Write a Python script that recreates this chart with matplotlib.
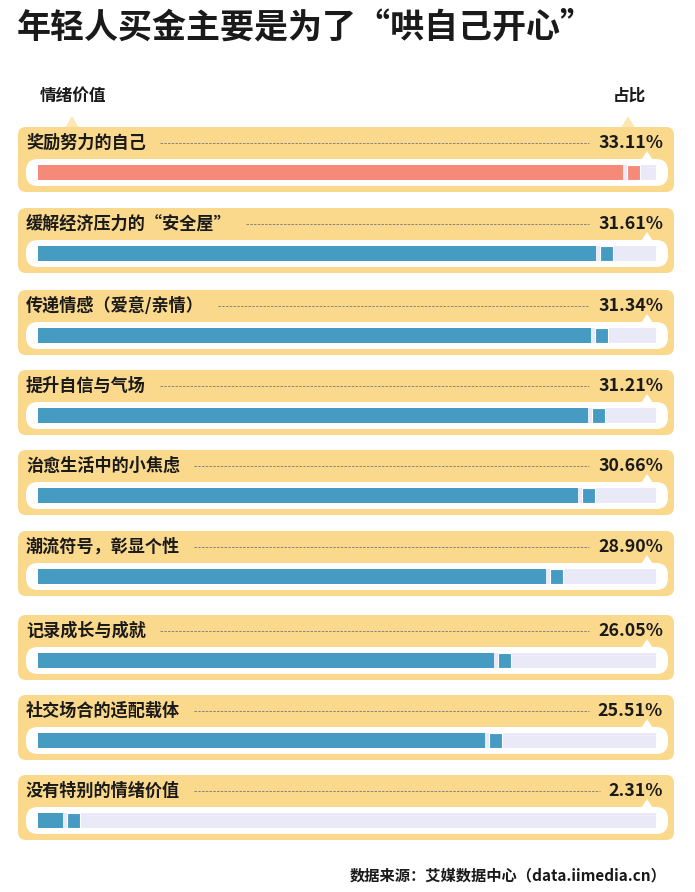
"""年轻人买金主要是为了“哄自己开心” -- rounded-panel progress bar chart."""

import matplotlib.pyplot as plt
from matplotlib.patches import FancyBboxPatch, Polygon
import numpy as np

plt.rcParams["font.family"] = ["Noto Sans CJK SC", "DejaVu Sans"]

# --- data ----------------------------------------------------------------------
LABELS = [
    "奖励努力的自己",
    "缓解经济压力的“安全屋”",
    "传递情感（爱意/亲情）",
    "提升自信与气场",
    "治愈生活中的小焦虑",
    "潮流符号，彰显个性",
    "记录成长与成就",
    "社交场合的适配载体",
    "没有特别的情绪价值",
]
VALUES = np.array([33.11, 31.61, 31.34, 31.21, 30.66, 28.90, 26.05, 25.51, 2.31])

TITLE = "年轻人买金主要是为了“哄自己开心”"
SOURCE = "数据来源：艾媒数据中心（data.iimedia.cn）"

# --- layout (pixels, figure is 695 x 892) ----------------------------------------
W, H = 695, 892
ROW_TOP = [127, 208, 290, 370, 450, 531, 615, 695, 775]
PANEL_X0, PANEL_X1, PANEL_H = 18, 674, 65
TRACK_X0, TRACK_X1 = 38, 656
X_MAX = 34.0                       # percent shown across the full track

PANEL = "#FAD88C"
PANEL_TIP = "#FCE6B2"
TRACK = "#E9E9F7"
BLUE = "#469BC2"
SALMON = "#F58A78"
INK = "#1a1a1a"

fig = plt.figure(figsize=(W / 100, H / 100), dpi=100)
ax = fig.add_axes([0, 0, 1, 1])
ax.set_xlim(0, W)
ax.set_ylim(H, 0)
ax.axis("off")

# bar axes: x in percent, y in pixel rows so it lines up with the panels
bx = fig.add_axes([TRACK_X0 / W, 0, (TRACK_X1 - TRACK_X0) / W, 1])
bx.set_xlim(0, X_MAX)
bx.set_ylim(H, 0)
bx.axis("off")
bx.patch.set_alpha(0)
px = X_MAX / (TRACK_X1 - TRACK_X0)   # percent per pixel

ax.text(17, 27, TITLE, fontsize=24.5, fontweight="heavy", color=INK,
        ha="left", va="center")
ax.text(40, 96, "情绪价值", fontsize=12, fontweight="bold", color=INK, va="center")
ax.text(646, 96, "占比", fontsize=12, fontweight="bold", color=INK, va="center", ha="right")
for x in (72, 628):
    ax.add_patch(Polygon([(x - 7, 128), (x + 7, 128), (x, 116)], closed=True,
                         fc=PANEL_TIP, ec="none"))

fig.canvas.draw()
renderer = fig.canvas.get_renderer()
inv = ax.transData.inverted()

bar_y = np.array(ROW_TOP) + 45.5
for i, (top, lab, v) in enumerate(zip(ROW_TOP, LABELS, VALUES)):
    ax.add_patch(FancyBboxPatch((PANEL_X0, top), PANEL_X1 - PANEL_X0, PANEL_H,
                                boxstyle="round,pad=0,rounding_size=8",
                                fc=PANEL, ec="none", zorder=1))
    ax.add_patch(FancyBboxPatch((26, top + 32), 642, 27,
                                boxstyle="round,pad=0,rounding_size=12",
                                fc="white", ec="none", zorder=2))
    ax.add_patch(Polygon([(641, top + 33), (653, top + 33), (647, top + 24)],
                         closed=True, fc="white", ec="none", zorder=2))
    t1 = ax.text(26, top + 16, lab, fontsize=12.3, fontweight="bold", color=INK,
                 va="center", ha="left", zorder=3)
    t2 = ax.text(663, top + 16, f"{v:.2f}%", fontsize=12.8, fontweight="bold",
                 color=INK, va="center", ha="right", zorder=3)
    x_a = inv.transform(t1.get_window_extent(renderer))[1][0] + 14
    x_b = inv.transform(t2.get_window_extent(renderer))[0][0] - 9
    ax.plot([x_a, x_b], [top + 16, top + 16], color="#777777", lw=0.6,
            ls=(0, (3, 1.5)), zorder=3)

colors = [SALMON] + [BLUE] * (len(VALUES) - 1)
cap, gap = 13 * px, 4 * px
bx.barh(bar_y, X_MAX, height=15, color=TRACK, zorder=1)
bx.barh(bar_y, VALUES - cap - gap, height=15, color=colors, zorder=2)
bx.barh(bar_y, cap, left=VALUES - cap, height=15, color=colors,
        edgecolor="white", linewidth=0.8, zorder=2)

ax.text(667, 875, SOURCE, fontsize=11, fontweight="bold", color=INK,
        ha="right", va="center")

fig.savefig("out.png", dpi=100)
